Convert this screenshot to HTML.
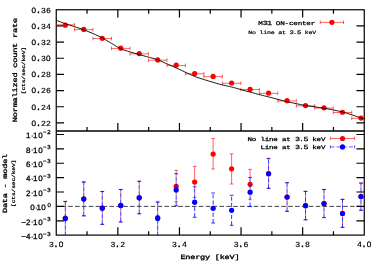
<!DOCTYPE html>
<html><head><meta charset="utf-8"><title>M31 spectrum</title>
<style>html,body{margin:0;padding:0;background:#fff;}body{width:374px;height:262px;overflow:hidden;font-family:"Liberation Mono",monospace;}svg{display:block;}</style>
</head><body>
<svg width="374" height="262" viewBox="0 0 374 262">
<rect width="374" height="262" fill="#fff"/>
<defs>
<clipPath id="ct"><rect x="56.25" y="9.75" width="308.0" height="121.15"/></clipPath>
<clipPath id="cb"><rect x="56.25" y="130.9" width="308.0" height="104.19999999999999"/></clipPath>
<filter id="gs" x="0" y="0" width="374" height="262" filterUnits="userSpaceOnUse" color-interpolation-filters="sRGB"><feOffset dx="0" dy="0"/></filter>
</defs>
<g stroke="#000000" stroke-width="1.2" fill="none">
<rect x="56.25" y="9.75" width="308.0" height="225.35"/>
<path d="M56.25 130.9H364.25" stroke-width="1.45"/>
<path d="M56.25 25.92h7.8M364.25 25.92h-7.8M56.25 42.09h7.8M364.25 42.09h-7.8M56.25 58.26h7.8M364.25 58.26h-7.8M56.25 74.43h7.8M364.25 74.43h-7.8M56.25 90.60h7.8M364.25 90.60h-7.8M56.25 106.77h7.8M364.25 106.77h-7.8M56.25 122.94h7.8M364.25 122.94h-7.8M56.25 220.78h7.8M364.25 220.78h-7.8M56.25 206.40h7.8M364.25 206.40h-7.8M56.25 192.02h7.8M364.25 192.02h-7.8M56.25 177.64h7.8M364.25 177.64h-7.8M56.25 163.26h7.8M364.25 163.26h-7.8M56.25 148.88h7.8M364.25 148.88h-7.8M56.25 134.50h7.8M364.25 134.50h-7.8M87.05 9.75v3.9M87.05 130.9v-3.9M87.05 235.1v-3.9M117.85 9.75v7.8M117.85 130.9v-7.8M117.85 235.1v-7.8M148.65 9.75v3.9M148.65 130.9v-3.9M148.65 235.1v-3.9M179.45 9.75v7.8M179.45 130.9v-7.8M179.45 235.1v-7.8M210.25 9.75v3.9M210.25 130.9v-3.9M210.25 235.1v-3.9M241.05 9.75v7.8M241.05 130.9v-7.8M241.05 235.1v-7.8M271.85 9.75v3.9M271.85 130.9v-3.9M271.85 235.1v-3.9M302.65 9.75v7.8M302.65 130.9v-7.8M302.65 235.1v-7.8M333.45 9.75v3.9M333.45 130.9v-3.9M333.45 235.1v-3.9"/>
</g>
<g clip-path="url(#ct)">
<path d="M56.06 24.80H74.54M56.06 23.00V26.60M74.54 23.00V26.60" stroke="#ff0000" stroke-width="0.62" fill="none"/>
<path d="M74.54 29.65H93.02M74.54 27.85V31.45M93.02 27.85V31.45" stroke="#ff0000" stroke-width="0.62" fill="none"/>
<path d="M93.02 38.55H111.50M93.02 36.75V40.35M111.50 36.75V40.35" stroke="#ff0000" stroke-width="0.62" fill="none"/>
<path d="M111.50 48.40H129.98M111.50 46.60V50.20M129.98 46.60V50.20" stroke="#ff0000" stroke-width="0.62" fill="none"/>
<path d="M129.98 53.85H148.46M129.98 52.05V55.65M148.46 52.05V55.65" stroke="#ff0000" stroke-width="0.62" fill="none"/>
<path d="M148.46 60.15H166.94M148.46 58.35V61.95M166.94 58.35V61.95" stroke="#ff0000" stroke-width="0.62" fill="none"/>
<path d="M166.94 65.45H185.42M166.94 63.65V67.25M185.42 63.65V67.25" stroke="#ff0000" stroke-width="0.62" fill="none"/>
<path d="M185.42 73.75H203.90M185.42 71.95V75.55M203.90 71.95V75.55" stroke="#ff0000" stroke-width="0.62" fill="none"/>
<path d="M203.90 76.65H222.38M203.90 74.85V78.45M222.38 74.85V78.45" stroke="#ff0000" stroke-width="0.62" fill="none"/>
<path d="M222.38 83.25H240.86M222.38 81.45V85.05M240.86 81.45V85.05" stroke="#ff0000" stroke-width="0.62" fill="none"/>
<path d="M240.86 89.55H259.34M240.86 87.75V91.35M259.34 87.75V91.35" stroke="#ff0000" stroke-width="0.62" fill="none"/>
<path d="M259.34 93.35H277.82M259.34 91.55V95.15M277.82 91.55V95.15" stroke="#ff0000" stroke-width="0.62" fill="none"/>
<path d="M277.82 100.95H296.30M277.82 99.15V102.75M296.30 99.15V102.75" stroke="#ff0000" stroke-width="0.62" fill="none"/>
<path d="M296.30 105.85H314.78M296.30 104.05V107.65M314.78 104.05V107.65" stroke="#ff0000" stroke-width="0.62" fill="none"/>
<path d="M314.78 108.05H333.26M314.78 106.25V109.85M333.26 106.25V109.85" stroke="#ff0000" stroke-width="0.62" fill="none"/>
<path d="M333.26 112.50H351.74M333.26 110.70V114.30M351.74 110.70V114.30" stroke="#ff0000" stroke-width="0.62" fill="none"/>
<path d="M351.74 118.30H370.22M351.74 116.50V120.10M370.22 116.50V120.10" stroke="#ff0000" stroke-width="0.62" fill="none"/>
<circle cx="65.30" cy="25.15" r="2.6" fill="#ff0000"/>
<circle cx="83.78" cy="29.4" r="2.6" fill="#ff0000"/>
<circle cx="102.26" cy="38.3" r="2.6" fill="#ff0000"/>
<circle cx="120.74" cy="48.15" r="2.6" fill="#ff0000"/>
<circle cx="139.22" cy="53.6" r="2.6" fill="#ff0000"/>
<circle cx="157.70" cy="59.9" r="2.6" fill="#ff0000"/>
<circle cx="176.18" cy="65.2" r="2.6" fill="#ff0000"/>
<circle cx="194.66" cy="73.5" r="2.6" fill="#ff0000"/>
<circle cx="213.14" cy="76.4" r="2.6" fill="#ff0000"/>
<circle cx="231.62" cy="83.0" r="2.6" fill="#ff0000"/>
<circle cx="250.10" cy="89.3" r="2.6" fill="#ff0000"/>
<circle cx="268.58" cy="93.1" r="2.6" fill="#ff0000"/>
<circle cx="287.06" cy="100.7" r="2.6" fill="#ff0000"/>
<circle cx="305.54" cy="105.6" r="2.6" fill="#ff0000"/>
<circle cx="324.02" cy="107.8" r="2.6" fill="#ff0000"/>
<circle cx="342.50" cy="112.25" r="2.6" fill="#ff0000"/>
<circle cx="360.98" cy="118.05" r="2.6" fill="#ff0000"/>
<path d="M56.25 20.30C57.00 20.58 63.80 23.18 65.30 23.70C66.80 24.22 72.65 26.09 74.20 26.60C75.75 27.11 82.20 29.18 83.85 29.80C85.50 30.42 92.47 33.33 94.00 34.00C95.53 34.67 100.74 37.12 102.20 37.90C103.66 38.68 109.96 42.49 111.50 43.40C113.04 44.31 119.20 48.11 120.70 48.80C122.20 49.49 127.95 51.22 129.50 51.70C131.05 52.18 137.73 54.15 139.30 54.60C140.88 55.05 146.88 56.68 148.40 57.10C149.92 57.52 155.97 59.15 157.50 59.70C159.03 60.25 165.16 63.03 166.70 63.70C168.24 64.38 174.55 67.14 176.00 67.80C177.45 68.46 182.56 70.88 184.10 71.60C185.64 72.32 192.87 75.74 194.50 76.40C196.13 77.06 202.16 79.01 203.70 79.50C205.24 79.99 211.56 81.88 213.00 82.30C214.44 82.72 219.45 84.21 221.00 84.60C222.55 84.99 229.93 86.58 231.60 87.00C233.27 87.42 239.46 89.17 241.00 89.60C242.54 90.02 248.43 91.65 250.10 92.10C251.77 92.55 259.47 94.60 261.00 95.00C262.53 95.40 267.08 96.53 268.50 96.90C269.92 97.27 276.46 99.00 278.00 99.40C279.54 99.80 285.50 101.35 287.00 101.70C288.50 102.05 294.45 103.27 296.00 103.60C297.55 103.92 304.02 105.32 305.60 105.60C307.18 105.88 313.47 106.68 315.00 106.90C316.53 107.12 322.50 108.00 324.00 108.25C325.50 108.50 331.47 109.59 333.00 109.90C334.53 110.21 340.82 111.53 342.40 111.95C343.98 112.37 350.45 114.40 352.00 114.90C353.55 115.40 359.98 117.66 361.00 118.00C362.02 118.34 363.98 118.92 364.25 119.00" stroke="#000000" stroke-width="0.9" stroke-linejoin="round" fill="none"/>
</g>
<g clip-path="url(#cb)">
<path d="M56.25 206.4H364.25" stroke="#000000" stroke-width="0.75" stroke-dasharray="4.58 2.295" stroke-dashoffset="1.8" fill="none"/>
<path d="M63.45 201.2H67.15M63.45 242H67.15" stroke="#ff0000" stroke-width="0.62" fill="none"/>
<path d="M65.30 201.2V201.60" stroke="#ff0000" stroke-width="0.62" fill="none"/>
<path d="M65.30 242.00V201.60" stroke="#ff0000" stroke-width="0.62" stroke-dasharray="2.05 4.1" stroke-dashoffset="-4.10" fill="none"/>
<path d="M81.93 181.5H85.63M81.93 215.7H85.63" stroke="#ff0000" stroke-width="0.62" fill="none"/>
<path d="M83.78 181.5V182.30" stroke="#ff0000" stroke-width="0.62" fill="none"/>
<path d="M83.78 215.70V182.30" stroke="#ff0000" stroke-width="0.62" stroke-dasharray="2.05 4.1" stroke-dashoffset="-3.90" fill="none"/>
<path d="M100.41 191.38H104.11M100.41 224.28H104.11" stroke="#ff0000" stroke-width="0.62" fill="none"/>
<path d="M102.26 191.38V191.50" stroke="#ff0000" stroke-width="0.62" fill="none"/>
<path d="M102.26 224.28V191.50" stroke="#ff0000" stroke-width="0.62" stroke-dasharray="2.05 4.1" stroke-dashoffset="-3.98" fill="none"/>
<path d="M118.89 189.38H122.59M118.89 221.88H122.59" stroke="#ff0000" stroke-width="0.62" fill="none"/>
<path d="M120.74 189.38V189.50" stroke="#ff0000" stroke-width="0.62" fill="none"/>
<path d="M120.74 221.88V189.50" stroke="#ff0000" stroke-width="0.62" stroke-dasharray="2.05 4.1" stroke-dashoffset="-3.98" fill="none"/>
<path d="M137.37 181.18H141.07M137.37 213.68H141.07" stroke="#ff0000" stroke-width="0.62" fill="none"/>
<path d="M139.22 181.18V181.30" stroke="#ff0000" stroke-width="0.62" fill="none"/>
<path d="M139.22 213.68V181.30" stroke="#ff0000" stroke-width="0.62" stroke-dasharray="2.05 4.1" stroke-dashoffset="-3.98" fill="none"/>
<path d="M155.85 201.3H159.55M155.85 242H159.55" stroke="#ff0000" stroke-width="0.62" fill="none"/>
<path d="M157.70 201.3V202.30" stroke="#ff0000" stroke-width="0.62" fill="none"/>
<path d="M157.70 242.00V202.30" stroke="#ff0000" stroke-width="0.62" stroke-dasharray="2.05 4.1" stroke-dashoffset="-4.10" fill="none"/>
<path d="M174.33 170.3H178.03M174.33 201.7H178.03" stroke="#ff0000" stroke-width="0.62" fill="none"/>
<path d="M176.18 170.3V173.70" stroke="#ff0000" stroke-width="0.62" fill="none"/>
<path d="M176.18 201.70V173.70" stroke="#ff0000" stroke-width="0.62" stroke-dasharray="2.05 4.1" stroke-dashoffset="0.00" fill="none"/>
<path d="M192.81 166.4H196.51M192.81 197.45H196.51" stroke="#ff0000" stroke-width="0.62" fill="none"/>
<path d="M194.66 166.4V186.85" stroke="#ff0000" stroke-width="0.62" fill="none"/>
<path d="M194.66 197.45V186.85" stroke="#ff0000" stroke-width="0.62" stroke-dasharray="2.05 4.1" stroke-dashoffset="15.75" fill="none"/>
<path d="M211.29 138.55H214.99M211.29 168.95H214.99" stroke="#ff0000" stroke-width="0.62" fill="none"/>
<path d="M213.14 138.55V168.95" stroke="#ff0000" stroke-width="0.62" fill="none"/>
<path d="M229.77 153.9H233.47M229.77 184.0H233.47" stroke="#ff0000" stroke-width="0.62" fill="none"/>
<path d="M231.62 153.9V184.00" stroke="#ff0000" stroke-width="0.62" fill="none"/>
<path d="M248.25 169.35H251.95M248.25 199.2H251.95" stroke="#ff0000" stroke-width="0.62" fill="none"/>
<path d="M250.10 169.35V177.45" stroke="#ff0000" stroke-width="0.62" fill="none"/>
<path d="M250.10 199.20V177.45" stroke="#ff0000" stroke-width="0.62" stroke-dasharray="2.05 4.1" stroke-dashoffset="3.30" fill="none"/>
<path d="M266.73 158.3H270.43M266.73 188.2H270.43" stroke="#ff0000" stroke-width="0.62" fill="none"/>
<path d="M268.58 158.3V158.70" stroke="#ff0000" stroke-width="0.62" fill="none"/>
<path d="M268.58 188.20V158.70" stroke="#ff0000" stroke-width="0.62" stroke-dasharray="2.05 4.1" stroke-dashoffset="-3.90" fill="none"/>
<path d="M285.21 182.63H288.91M285.21 211.28H288.91" stroke="#ff0000" stroke-width="0.62" fill="none"/>
<path d="M287.06 182.63V182.75" stroke="#ff0000" stroke-width="0.62" fill="none"/>
<path d="M287.06 211.28V182.75" stroke="#ff0000" stroke-width="0.62" stroke-dasharray="2.05 4.1" stroke-dashoffset="-3.98" fill="none"/>
<path d="M303.69 191.28H307.39M303.69 219.73H307.39" stroke="#ff0000" stroke-width="0.62" fill="none"/>
<path d="M305.54 191.28V191.40" stroke="#ff0000" stroke-width="0.62" fill="none"/>
<path d="M305.54 219.73V191.40" stroke="#ff0000" stroke-width="0.62" stroke-dasharray="2.05 4.1" stroke-dashoffset="-3.98" fill="none"/>
<path d="M322.17 189.38H325.87M322.17 217.48H325.87" stroke="#ff0000" stroke-width="0.62" fill="none"/>
<path d="M324.02 189.38V189.50" stroke="#ff0000" stroke-width="0.62" fill="none"/>
<path d="M324.02 217.48V189.50" stroke="#ff0000" stroke-width="0.62" stroke-dasharray="2.05 4.1" stroke-dashoffset="-3.98" fill="none"/>
<path d="M340.65 199.28H344.35M340.65 227.28H344.35" stroke="#ff0000" stroke-width="0.62" fill="none"/>
<path d="M342.50 199.28V199.40" stroke="#ff0000" stroke-width="0.62" fill="none"/>
<path d="M342.50 227.28V199.40" stroke="#ff0000" stroke-width="0.62" stroke-dasharray="2.05 4.1" stroke-dashoffset="-3.98" fill="none"/>
<path d="M359.13 182.98H362.83M359.13 210.18H362.83" stroke="#ff0000" stroke-width="0.62" fill="none"/>
<path d="M360.98 182.98V183.10" stroke="#ff0000" stroke-width="0.62" fill="none"/>
<path d="M360.98 210.18V183.10" stroke="#ff0000" stroke-width="0.62" stroke-dasharray="2.05 4.1" stroke-dashoffset="-3.98" fill="none"/>
<circle cx="65.30" cy="218.2" r="2.6" fill="#ff0000"/>
<circle cx="83.78" cy="198.8" r="2.6" fill="#ff0000"/>
<circle cx="102.26" cy="208.07999999999998" r="2.6" fill="#ff0000"/>
<circle cx="120.74" cy="205.38" r="2.6" fill="#ff0000"/>
<circle cx="139.22" cy="197.68" r="2.6" fill="#ff0000"/>
<circle cx="157.70" cy="217.5" r="2.6" fill="#ff0000"/>
<circle cx="176.18" cy="186.25" r="2.6" fill="#ff0000"/>
<circle cx="194.66" cy="182.1" r="2.6" fill="#ff0000"/>
<circle cx="213.14" cy="154.1" r="2.6" fill="#ff0000"/>
<circle cx="231.62" cy="168.85" r="2.6" fill="#ff0000"/>
<circle cx="250.10" cy="184.3" r="2.6" fill="#ff0000"/>
<circle cx="268.58" cy="173.5" r="2.6" fill="#ff0000"/>
<circle cx="287.06" cy="196.98" r="2.6" fill="#ff0000"/>
<circle cx="305.54" cy="205.53" r="2.6" fill="#ff0000"/>
<circle cx="324.02" cy="203.57999999999998" r="2.6" fill="#ff0000"/>
<circle cx="342.50" cy="213.38" r="2.6" fill="#ff0000"/>
<circle cx="360.98" cy="196.48" r="2.6" fill="#ff0000"/>
<path d="M65.30 242V201.6" stroke="#0000ff" stroke-width="0.8" stroke-dasharray="4.1 2.05" fill="none"/>
<path d="M63.45 201.6H67.15M63.45 242H67.15" stroke="#0000ff" stroke-width="0.8" fill="none"/>
<path d="M83.78 215.9V182.3" stroke="#0000ff" stroke-width="0.8" stroke-dasharray="4.1 2.05" fill="none"/>
<path d="M81.93 182.3H85.63M81.93 215.9H85.63" stroke="#0000ff" stroke-width="0.8" fill="none"/>
<path d="M102.26 224.4V191.5" stroke="#0000ff" stroke-width="0.8" stroke-dasharray="4.1 2.05" fill="none"/>
<path d="M100.41 191.5H104.11M100.41 224.4H104.11" stroke="#0000ff" stroke-width="0.8" fill="none"/>
<path d="M120.74 222.0V189.5" stroke="#0000ff" stroke-width="0.8" stroke-dasharray="4.1 2.05" fill="none"/>
<path d="M118.89 189.5H122.59M118.89 222.0H122.59" stroke="#0000ff" stroke-width="0.8" fill="none"/>
<path d="M139.22 213.8V181.3" stroke="#0000ff" stroke-width="0.8" stroke-dasharray="4.1 2.05" fill="none"/>
<path d="M137.37 181.3H141.07M137.37 213.8H141.07" stroke="#0000ff" stroke-width="0.8" fill="none"/>
<path d="M157.70 242V202.3" stroke="#0000ff" stroke-width="0.8" stroke-dasharray="4.1 2.05" fill="none"/>
<path d="M155.85 202.3H159.55M155.85 242H159.55" stroke="#0000ff" stroke-width="0.8" fill="none"/>
<path d="M176.18 205.8V173.7" stroke="#0000ff" stroke-width="0.8" stroke-dasharray="4.1 2.05" fill="none"/>
<path d="M174.33 173.7H178.03M174.33 205.8H178.03" stroke="#0000ff" stroke-width="0.8" fill="none"/>
<path d="M194.66 217.3V186.85" stroke="#0000ff" stroke-width="0.8" stroke-dasharray="4.1 2.05" fill="none"/>
<path d="M192.81 186.85H196.51M192.81 217.3H196.51" stroke="#0000ff" stroke-width="0.8" fill="none"/>
<path d="M213.14 223.0V193.0" stroke="#0000ff" stroke-width="0.8" stroke-dasharray="4.1 2.05" fill="none"/>
<path d="M211.29 193.0H214.99M211.29 223.0H214.99" stroke="#0000ff" stroke-width="0.8" fill="none"/>
<path d="M231.62 225.3V195.25" stroke="#0000ff" stroke-width="0.8" stroke-dasharray="4.1 2.05" fill="none"/>
<path d="M229.77 195.25H233.47M229.77 225.3H233.47" stroke="#0000ff" stroke-width="0.8" fill="none"/>
<path d="M250.10 206.6V177.45" stroke="#0000ff" stroke-width="0.8" stroke-dasharray="4.1 2.05" fill="none"/>
<path d="M248.25 177.45H251.95M248.25 206.6H251.95" stroke="#0000ff" stroke-width="0.8" fill="none"/>
<path d="M268.58 188.4V158.7" stroke="#0000ff" stroke-width="0.8" stroke-dasharray="4.1 2.05" fill="none"/>
<path d="M266.73 158.7H270.43M266.73 188.4H270.43" stroke="#0000ff" stroke-width="0.8" fill="none"/>
<path d="M287.06 211.4V182.75" stroke="#0000ff" stroke-width="0.8" stroke-dasharray="4.1 2.05" fill="none"/>
<path d="M285.21 182.75H288.91M285.21 211.4H288.91" stroke="#0000ff" stroke-width="0.8" fill="none"/>
<path d="M305.54 219.85V191.4" stroke="#0000ff" stroke-width="0.8" stroke-dasharray="4.1 2.05" fill="none"/>
<path d="M303.69 191.4H307.39M303.69 219.85H307.39" stroke="#0000ff" stroke-width="0.8" fill="none"/>
<path d="M324.02 217.6V189.5" stroke="#0000ff" stroke-width="0.8" stroke-dasharray="4.1 2.05" fill="none"/>
<path d="M322.17 189.5H325.87M322.17 217.6H325.87" stroke="#0000ff" stroke-width="0.8" fill="none"/>
<path d="M342.50 227.4V199.4" stroke="#0000ff" stroke-width="0.8" stroke-dasharray="4.1 2.05" fill="none"/>
<path d="M340.65 199.4H344.35M340.65 227.4H344.35" stroke="#0000ff" stroke-width="0.8" fill="none"/>
<path d="M360.98 210.3V183.1" stroke="#0000ff" stroke-width="0.8" stroke-dasharray="4.1 2.05" fill="none"/>
<path d="M359.13 183.1H362.83M359.13 210.3H362.83" stroke="#0000ff" stroke-width="0.8" fill="none"/>
<circle cx="65.30" cy="218.6" r="2.6" fill="#0000ff"/>
<circle cx="83.78" cy="199.1" r="2.6" fill="#0000ff"/>
<circle cx="102.26" cy="208.2" r="2.6" fill="#0000ff"/>
<circle cx="120.74" cy="205.5" r="2.6" fill="#0000ff"/>
<circle cx="139.22" cy="197.8" r="2.6" fill="#0000ff"/>
<circle cx="157.70" cy="218.4" r="2.6" fill="#0000ff"/>
<circle cx="176.18" cy="189.9" r="2.6" fill="#0000ff"/>
<circle cx="194.66" cy="202.15" r="2.6" fill="#0000ff"/>
<circle cx="213.14" cy="208.3" r="2.6" fill="#0000ff"/>
<circle cx="231.62" cy="210.3" r="2.6" fill="#0000ff"/>
<circle cx="250.10" cy="192.15" r="2.6" fill="#0000ff"/>
<circle cx="268.58" cy="173.8" r="2.6" fill="#0000ff"/>
<circle cx="287.06" cy="197.1" r="2.6" fill="#0000ff"/>
<circle cx="305.54" cy="205.65" r="2.6" fill="#0000ff"/>
<circle cx="324.02" cy="203.7" r="2.6" fill="#0000ff"/>
<circle cx="342.50" cy="213.5" r="2.6" fill="#0000ff"/>
<circle cx="360.98" cy="196.6" r="2.6" fill="#0000ff"/>
</g>
<g filter="url(#gs)" text-rendering="geometricPrecision">
<text transform="translate(50.90 12.55) scale(1.0417 1)" x="-18.73 -14.41 -9.41 -4.71" y="0" font-family="Liberation Mono, monospace" font-size="7.843" stroke="#000" stroke-width="0.18" stroke-linejoin="round"><tspan font-family="Liberation Sans, sans-serif" stroke-width="0.26">0</tspan><tspan stroke-width="0.5">.</tspan>36</text>
<text transform="translate(50.90 28.72) scale(1.0417 1)" x="-18.73 -14.41 -9.41 -4.71" y="0" font-family="Liberation Mono, monospace" font-size="7.843" stroke="#000" stroke-width="0.18" stroke-linejoin="round"><tspan font-family="Liberation Sans, sans-serif" stroke-width="0.26">0</tspan><tspan stroke-width="0.5">.</tspan>34</text>
<text transform="translate(50.90 44.89) scale(1.0417 1)" x="-18.73 -14.41 -9.41 -4.71" y="0" font-family="Liberation Mono, monospace" font-size="7.843" stroke="#000" stroke-width="0.18" stroke-linejoin="round"><tspan font-family="Liberation Sans, sans-serif" stroke-width="0.26">0</tspan><tspan stroke-width="0.5">.</tspan>32</text>
<text transform="translate(50.90 61.06) scale(1.0417 1)" x="-18.73 -14.41 -9.41 -4.61" y="0" font-family="Liberation Mono, monospace" font-size="7.843" stroke="#000" stroke-width="0.18" stroke-linejoin="round"><tspan font-family="Liberation Sans, sans-serif" stroke-width="0.26">0</tspan><tspan stroke-width="0.5">.</tspan>3<tspan font-family="Liberation Sans, sans-serif" stroke-width="0.26">0</tspan></text>
<text transform="translate(50.90 77.23) scale(1.0417 1)" x="-18.73 -14.41 -9.41 -4.71" y="0" font-family="Liberation Mono, monospace" font-size="7.843" stroke="#000" stroke-width="0.18" stroke-linejoin="round"><tspan font-family="Liberation Sans, sans-serif" stroke-width="0.26">0</tspan><tspan stroke-width="0.5">.</tspan>28</text>
<text transform="translate(50.90 93.40) scale(1.0417 1)" x="-18.73 -14.41 -9.41 -4.71" y="0" font-family="Liberation Mono, monospace" font-size="7.843" stroke="#000" stroke-width="0.18" stroke-linejoin="round"><tspan font-family="Liberation Sans, sans-serif" stroke-width="0.26">0</tspan><tspan stroke-width="0.5">.</tspan>26</text>
<text transform="translate(50.90 109.57) scale(1.0417 1)" x="-18.73 -14.41 -9.41 -4.71" y="0" font-family="Liberation Mono, monospace" font-size="7.843" stroke="#000" stroke-width="0.18" stroke-linejoin="round"><tspan font-family="Liberation Sans, sans-serif" stroke-width="0.26">0</tspan><tspan stroke-width="0.5">.</tspan>24</text>
<text transform="translate(50.90 125.74) scale(1.0417 1)" x="-18.73 -14.41 -9.41 -4.71" y="0" font-family="Liberation Mono, monospace" font-size="7.843" stroke="#000" stroke-width="0.18" stroke-linejoin="round"><tspan font-family="Liberation Sans, sans-serif" stroke-width="0.26">0</tspan><tspan stroke-width="0.5">.</tspan>22</text>
<text transform="translate(56.25 246.55) scale(1.0417 1)" x="-7.06 -2.64 2.45" y="0" font-family="Liberation Mono, monospace" font-size="7.843" stroke="#000" stroke-width="0.18" stroke-linejoin="round">3<tspan stroke-width="0.5">.</tspan><tspan font-family="Liberation Sans, sans-serif" stroke-width="0.26">0</tspan></text>
<text transform="translate(117.85 246.55) scale(1.0417 1)" x="-7.06 -2.64 2.35" y="0" font-family="Liberation Mono, monospace" font-size="7.843" stroke="#000" stroke-width="0.18" stroke-linejoin="round">3<tspan stroke-width="0.5">.</tspan>2</text>
<text transform="translate(179.45 246.55) scale(1.0417 1)" x="-7.06 -2.64 2.35" y="0" font-family="Liberation Mono, monospace" font-size="7.843" stroke="#000" stroke-width="0.18" stroke-linejoin="round">3<tspan stroke-width="0.5">.</tspan>4</text>
<text transform="translate(241.05 246.55) scale(1.0417 1)" x="-7.06 -2.64 2.35" y="0" font-family="Liberation Mono, monospace" font-size="7.843" stroke="#000" stroke-width="0.18" stroke-linejoin="round">3<tspan stroke-width="0.5">.</tspan>6</text>
<text transform="translate(302.65 246.55) scale(1.0417 1)" x="-7.06 -2.64 2.35" y="0" font-family="Liberation Mono, monospace" font-size="7.843" stroke="#000" stroke-width="0.18" stroke-linejoin="round">3<tspan stroke-width="0.5">.</tspan>8</text>
<text transform="translate(364.25 246.55) scale(1.0417 1)" x="-7.06 -2.64 2.45" y="0" font-family="Liberation Mono, monospace" font-size="7.843" stroke="#000" stroke-width="0.18" stroke-linejoin="round">4<tspan stroke-width="0.5">.</tspan><tspan font-family="Liberation Sans, sans-serif" stroke-width="0.26">0</tspan></text>
<text transform="translate(210.00 259.00) scale(1.3462 1)" x="-21.94 -18.30 -14.66 -11.02 -7.37 -3.73 -0.09 3.55 7.19 10.83 14.47 18.12" y="0" font-family="Liberation Mono, monospace" font-size="6.373" stroke="#000" stroke-width="0.32" stroke-linejoin="round">Energy [keV]</text>
<text transform="translate(17.00 70.05) rotate(-90) scale(1.3462 1)" x="-38.75 -35.07 -31.39 -27.70 -24.02 -20.34 -16.66 -12.98 -9.30 -5.61 -1.93 1.75 5.43 9.11 12.79 16.48 20.16 23.84 27.52 31.20 34.88" y="0" font-family="Liberation Mono, monospace" font-size="6.443" stroke="#000" stroke-width="0.3" stroke-linejoin="round">Normalized count rate</text>
<text transform="translate(24.90 70.50) rotate(-90) scale(1.3462 1)" x="-17.60 -14.90 -12.20 -9.51 -6.81 -4.11 -1.42 1.28 3.98 6.67 9.37 12.07 14.76" y="0" font-family="Liberation Mono, monospace" font-size="4.719" stroke="#000" stroke-width="0.22" stroke-linejoin="round">[cts/sec/keV]</text>
<text transform="translate(7.20 183.40) rotate(-90) scale(1.3462 1)" x="-22.02 -18.37 -14.71 -11.06 -7.40 -3.75 -0.09 3.56 7.22 10.87 14.53 18.18" y="0" font-family="Liberation Mono, monospace" font-size="6.396" stroke="#000" stroke-width="0.3" stroke-linejoin="round">Data - model</text>
<text transform="translate(14.90 183.30) rotate(-90) scale(1.3462 1)" x="-17.60 -14.90 -12.20 -9.51 -6.81 -4.11 -1.42 1.28 3.98 6.67 9.37 12.07 14.76" y="0" font-family="Liberation Mono, monospace" font-size="4.719" stroke="#000" stroke-width="0.22" stroke-linejoin="round">[cts/sec/keV]</text>
<text transform="translate(48.90 134.30) scale(1.03 1)" text-anchor="middle" font-family="Liberation Sans, sans-serif" font-size="5.8" stroke="#000" stroke-width="0.28">2</text>
<text transform="translate(44.75 134.30) scale(1.03 1)" text-anchor="middle" font-family="Liberation Sans, sans-serif" font-size="5.8" stroke="#000" stroke-width="0.28">−</text>
<text transform="translate(40.50 138.05) scale(1.03 1)" text-anchor="middle" font-family="Liberation Sans, sans-serif" font-size="7.8" stroke="#000" stroke-width="0.28">0</text>
<text transform="translate(35.20 138.05) scale(1.03 1)" text-anchor="middle" font-family="Liberation Sans, sans-serif" font-size="7.8" stroke="#000" stroke-width="0.28">1</text>
<text transform="translate(32.20 137.55) scale(1.03 1)" text-anchor="middle" font-family="Liberation Sans, sans-serif" font-size="7.0" stroke="#000" stroke-width="0.3">·</text>
<text transform="translate(28.30 138.05) scale(1.03 1)" text-anchor="middle" font-family="Liberation Sans, sans-serif" font-size="7.8" stroke="#000" stroke-width="0.28">1</text>
<text transform="translate(48.90 148.77) scale(1.03 1)" text-anchor="middle" font-family="Liberation Sans, sans-serif" font-size="5.8" stroke="#000" stroke-width="0.28">3</text>
<text transform="translate(44.75 148.77) scale(1.03 1)" text-anchor="middle" font-family="Liberation Sans, sans-serif" font-size="5.8" stroke="#000" stroke-width="0.28">−</text>
<text transform="translate(40.50 152.52) scale(1.03 1)" text-anchor="middle" font-family="Liberation Sans, sans-serif" font-size="7.8" stroke="#000" stroke-width="0.28">0</text>
<text transform="translate(35.20 152.52) scale(1.03 1)" text-anchor="middle" font-family="Liberation Sans, sans-serif" font-size="7.8" stroke="#000" stroke-width="0.28">1</text>
<text transform="translate(32.20 152.02) scale(1.03 1)" text-anchor="middle" font-family="Liberation Sans, sans-serif" font-size="7.0" stroke="#000" stroke-width="0.3">·</text>
<text transform="translate(28.30 152.52) scale(1.03 1)" text-anchor="middle" font-family="Liberation Sans, sans-serif" font-size="7.8" stroke="#000" stroke-width="0.28">8</text>
<text transform="translate(48.90 163.23) scale(1.03 1)" text-anchor="middle" font-family="Liberation Sans, sans-serif" font-size="5.8" stroke="#000" stroke-width="0.28">3</text>
<text transform="translate(44.75 163.23) scale(1.03 1)" text-anchor="middle" font-family="Liberation Sans, sans-serif" font-size="5.8" stroke="#000" stroke-width="0.28">−</text>
<text transform="translate(40.50 166.98) scale(1.03 1)" text-anchor="middle" font-family="Liberation Sans, sans-serif" font-size="7.8" stroke="#000" stroke-width="0.28">0</text>
<text transform="translate(35.20 166.98) scale(1.03 1)" text-anchor="middle" font-family="Liberation Sans, sans-serif" font-size="7.8" stroke="#000" stroke-width="0.28">1</text>
<text transform="translate(32.20 166.48) scale(1.03 1)" text-anchor="middle" font-family="Liberation Sans, sans-serif" font-size="7.0" stroke="#000" stroke-width="0.3">·</text>
<text transform="translate(28.30 166.98) scale(1.03 1)" text-anchor="middle" font-family="Liberation Sans, sans-serif" font-size="7.8" stroke="#000" stroke-width="0.28">6</text>
<text transform="translate(48.90 177.70) scale(1.03 1)" text-anchor="middle" font-family="Liberation Sans, sans-serif" font-size="5.8" stroke="#000" stroke-width="0.28">3</text>
<text transform="translate(44.75 177.70) scale(1.03 1)" text-anchor="middle" font-family="Liberation Sans, sans-serif" font-size="5.8" stroke="#000" stroke-width="0.28">−</text>
<text transform="translate(40.50 181.45) scale(1.03 1)" text-anchor="middle" font-family="Liberation Sans, sans-serif" font-size="7.8" stroke="#000" stroke-width="0.28">0</text>
<text transform="translate(35.20 181.45) scale(1.03 1)" text-anchor="middle" font-family="Liberation Sans, sans-serif" font-size="7.8" stroke="#000" stroke-width="0.28">1</text>
<text transform="translate(32.20 180.95) scale(1.03 1)" text-anchor="middle" font-family="Liberation Sans, sans-serif" font-size="7.0" stroke="#000" stroke-width="0.3">·</text>
<text transform="translate(28.30 181.45) scale(1.03 1)" text-anchor="middle" font-family="Liberation Sans, sans-serif" font-size="7.8" stroke="#000" stroke-width="0.28">4</text>
<text transform="translate(48.90 192.16) scale(1.03 1)" text-anchor="middle" font-family="Liberation Sans, sans-serif" font-size="5.8" stroke="#000" stroke-width="0.28">3</text>
<text transform="translate(44.75 192.16) scale(1.03 1)" text-anchor="middle" font-family="Liberation Sans, sans-serif" font-size="5.8" stroke="#000" stroke-width="0.28">−</text>
<text transform="translate(40.50 195.91) scale(1.03 1)" text-anchor="middle" font-family="Liberation Sans, sans-serif" font-size="7.8" stroke="#000" stroke-width="0.28">0</text>
<text transform="translate(35.20 195.91) scale(1.03 1)" text-anchor="middle" font-family="Liberation Sans, sans-serif" font-size="7.8" stroke="#000" stroke-width="0.28">1</text>
<text transform="translate(32.20 195.41) scale(1.03 1)" text-anchor="middle" font-family="Liberation Sans, sans-serif" font-size="7.0" stroke="#000" stroke-width="0.3">·</text>
<text transform="translate(28.30 195.91) scale(1.03 1)" text-anchor="middle" font-family="Liberation Sans, sans-serif" font-size="7.8" stroke="#000" stroke-width="0.28">2</text>
<text transform="translate(49.10 206.63) scale(1.03 1)" text-anchor="middle" font-family="Liberation Sans, sans-serif" font-size="5.8" stroke="#000" stroke-width="0.28">0</text>
<text transform="translate(43.50 210.38) scale(1.03 1)" text-anchor="middle" font-family="Liberation Sans, sans-serif" font-size="7.8" stroke="#000" stroke-width="0.28">0</text>
<text transform="translate(38.70 210.38) scale(1.03 1)" text-anchor="middle" font-family="Liberation Sans, sans-serif" font-size="7.8" stroke="#000" stroke-width="0.28">1</text>
<text transform="translate(36.20 209.88) scale(1.03 1)" text-anchor="middle" font-family="Liberation Sans, sans-serif" font-size="7.0" stroke="#000" stroke-width="0.3">·</text>
<text transform="translate(32.60 210.38) scale(1.03 1)" text-anchor="middle" font-family="Liberation Sans, sans-serif" font-size="7.8" stroke="#000" stroke-width="0.28">0</text>
<text transform="translate(48.90 221.09) scale(1.03 1)" text-anchor="middle" font-family="Liberation Sans, sans-serif" font-size="5.8" stroke="#000" stroke-width="0.28">3</text>
<text transform="translate(44.75 221.09) scale(1.03 1)" text-anchor="middle" font-family="Liberation Sans, sans-serif" font-size="5.8" stroke="#000" stroke-width="0.28">−</text>
<text transform="translate(40.50 224.84) scale(1.03 1)" text-anchor="middle" font-family="Liberation Sans, sans-serif" font-size="7.8" stroke="#000" stroke-width="0.28">0</text>
<text transform="translate(35.20 224.84) scale(1.03 1)" text-anchor="middle" font-family="Liberation Sans, sans-serif" font-size="7.8" stroke="#000" stroke-width="0.28">1</text>
<text transform="translate(32.20 224.34) scale(1.03 1)" text-anchor="middle" font-family="Liberation Sans, sans-serif" font-size="7.0" stroke="#000" stroke-width="0.3">·</text>
<text transform="translate(28.30 224.84) scale(1.03 1)" text-anchor="middle" font-family="Liberation Sans, sans-serif" font-size="7.8" stroke="#000" stroke-width="0.28">2</text>
<text transform="translate(23.60 224.84) scale(1.03 1)" text-anchor="middle" font-family="Liberation Sans, sans-serif" font-size="7.8" stroke="#000" stroke-width="0.28">−</text>
<text transform="translate(48.90 235.56) scale(1.03 1)" text-anchor="middle" font-family="Liberation Sans, sans-serif" font-size="5.8" stroke="#000" stroke-width="0.28">3</text>
<text transform="translate(44.75 235.56) scale(1.03 1)" text-anchor="middle" font-family="Liberation Sans, sans-serif" font-size="5.8" stroke="#000" stroke-width="0.28">−</text>
<text transform="translate(40.50 239.31) scale(1.03 1)" text-anchor="middle" font-family="Liberation Sans, sans-serif" font-size="7.8" stroke="#000" stroke-width="0.28">0</text>
<text transform="translate(35.20 239.31) scale(1.03 1)" text-anchor="middle" font-family="Liberation Sans, sans-serif" font-size="7.8" stroke="#000" stroke-width="0.28">1</text>
<text transform="translate(32.20 238.81) scale(1.03 1)" text-anchor="middle" font-family="Liberation Sans, sans-serif" font-size="7.0" stroke="#000" stroke-width="0.3">·</text>
<text transform="translate(28.30 239.31) scale(1.03 1)" text-anchor="middle" font-family="Liberation Sans, sans-serif" font-size="7.8" stroke="#000" stroke-width="0.28">4</text>
<text transform="translate(23.60 239.31) scale(1.03 1)" text-anchor="middle" font-family="Liberation Sans, sans-serif" font-size="7.8" stroke="#000" stroke-width="0.28">−</text>
<text transform="translate(315.20 24.60) scale(1.3462 1)" x="-42.26 -39.02 -35.77 -32.53 -29.28 -26.04 -22.79 -19.55 -16.30 -13.06 -9.82 -6.57 -3.33" y="0" font-family="Liberation Mono, monospace" font-size="5.678" stroke="#000" stroke-width="0.25" stroke-linejoin="round">M<tspan font-size="6.26">3</tspan><tspan font-size="6.26">1</tspan> ON-center</text>
<text transform="translate(316.00 33.60) scale(1.3462 1)" x="-50.37 -47.58 -44.78 -41.99 -39.19 -36.40 -33.61 -30.81 -28.02 -25.22 -22.43 -19.63 -16.84 -14.04 -11.25 -8.45 -5.66 -2.86" y="0" font-family="Liberation Mono, monospace" font-size="4.891" stroke="#000" stroke-width="0.2" stroke-linejoin="round">No line at <tspan font-size="5.39">3</tspan>.<tspan font-size="5.39">5</tspan> keV</text>
<path d="M320.3 22.35H343.5M320.3 20.55V24.150000000000002M343.5 20.55V24.150000000000002" stroke="#ff0000" stroke-width="0.62" fill="none"/>
<circle cx="331.9" cy="22.35" r="2.6" fill="#ff0000"/>
<text transform="translate(325.30 141.20) scale(1.3462 1)" x="-57.84 -54.64 -51.43 -48.22 -45.01 -41.80 -38.59 -35.38 -32.17 -28.96 -25.75 -22.54 -19.34 -16.13 -12.92 -9.71 -6.50 -3.29" y="0" font-family="Liberation Mono, monospace" font-size="5.616" stroke="#000" stroke-width="0.25" stroke-linejoin="round">No line at <tspan font-size="6.19">3</tspan>.<tspan font-size="6.19">5</tspan> keV</text>
<text transform="translate(325.30 149.10) scale(1.3462 1)" x="-48.22 -45.01 -41.80 -38.59 -35.38 -32.17 -28.96 -25.75 -22.54 -19.34 -16.13 -12.92 -9.71 -6.50 -3.29" y="0" font-family="Liberation Mono, monospace" font-size="5.616" stroke="#000" stroke-width="0.25" stroke-linejoin="round">Line at <tspan font-size="6.19">3</tspan>.<tspan font-size="6.19">5</tspan> keV</text>
<path d="M330.4 138.5H354.6M330.4 136.85V140.15M354.6 136.85V140.15" stroke="#ff0000" stroke-width="0.62" fill="none"/>
<circle cx="342.5" cy="138.5" r="2.6" fill="#ff0000"/>
<path d="M330.4 146.9H354.6" stroke="#0000ff" stroke-width="0.62" stroke-dasharray="4.1 2.05" fill="none"/>
<path d="M330.4 145.25V148.55M354.6 145.25V148.55" stroke="#0000ff" stroke-width="0.62" fill="none"/>
<circle cx="342.5" cy="146.9" r="2.6" fill="#0000ff"/>
</g>
</svg>
</body></html>
